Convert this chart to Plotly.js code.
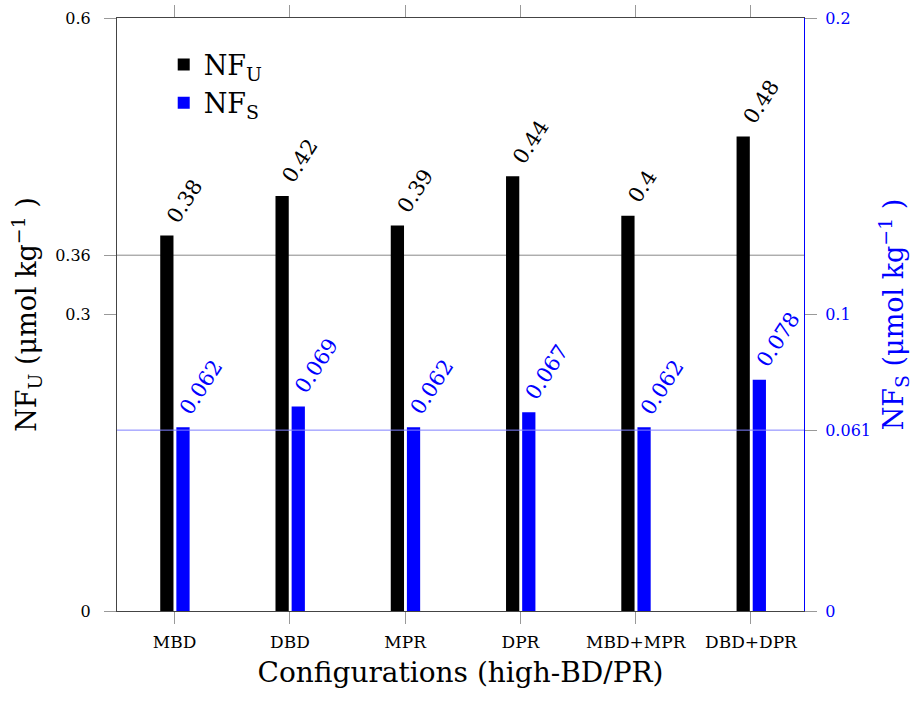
<!DOCTYPE html>
<html>
<head>
<meta charset="utf-8">
<script src="https://cdn.plot.ly/plotly-3.0.1.min.js"></script>
<style>
  html, body { margin: 0; padding: 0; background: #fff; }
  #chart { width: 913px; height: 701px; }
</style>
</head>
<body>
<div id="chart"></div>
<script>
const categories = ["MBD", "DBD", "MPR", "DPR", "MBD+MPR", "DBD+DPR"];
const nfU = [0.38, 0.42, 0.39, 0.44, 0.4, 0.48];
const nfS = [0.062, 0.069, 0.062, 0.067, 0.062, 0.078];
const leftTicks = [0, 0.3, 0.36, 0.6];
const rightTicks = [0, 0.061, 0.1, 0.2];
const refU = 0.36;
const refS = 0.061;

const FONT = "DejaVu Serif, Liberation Serif, serif";
const BLUE = "#0000ff";

const traces = [
  {
    type: "bar", name: "NF<sub>U</sub>", x: categories, y: nfU, yaxis: "y",
    marker: { color: "#000000", line: { width: 0 } },
    width: 0.115, offset: -0.125
  },
  {
    type: "bar", name: "NF<sub>S</sub>", x: categories, y: nfS, yaxis: "y2",
    marker: { color: BLUE, line: { width: 0 } },
    width: 0.115, offset: 0.015
  }
];

// value labels, rotated, placed at the top of each bar
const labelAnns = [];
categories.forEach((c, i) => {
  labelAnns.push({
    x: c, y: nfU[i], xref: "x", yref: "y",
    text: String(nfU[i]), showarrow: false, textangle: -57,
    xanchor: "left", yanchor: "bottom", xshift: -14, yshift: 7,
    borderpad: 0, font: { family: FONT, size: 21, color: "#000000" }
  });
  labelAnns.push({
    x: c, y: nfS[i], xref: "x", yref: "y2",
    text: String(nfS[i]), showarrow: false, textangle: -57,
    xanchor: "left", yanchor: "bottom", xshift: -1, yshift: 7,
    borderpad: 0, font: { family: FONT, size: 21, color: BLUE }
  });
});

const layout = {
  width: 913, height: 701,
  margin: { l: 117, r: 109, t: 18, b: 90 },
  paper_bgcolor: "#ffffff", plot_bgcolor: "#ffffff",
  font: { family: FONT, color: "#000000" },
  showlegend: true,
  legend: {
    x: 0.068, y: 0.962, xanchor: "left", yanchor: "top",
    bgcolor: "rgba(0,0,0,0)", font: { family: FONT, size: 27 },
    tracegroupgap: 2, itemwidth: 30
  },
  xaxis: {
    type: "category", range: [-0.5, 5.46],
    showline: true, linecolor: "#444444", linewidth: 1,
    mirror: "ticks", ticks: "outside", ticklen: 12, tickcolor: "#999999",
    showgrid: false, zeroline: false,
    tickfont: { family: FONT, size: 17, color: "#000000" },
    ticklabelstandoff: 4,
    title: { text: "Configurations (high-BD/PR)", font: { family: FONT, size: 28 }, standoff: 10 }
  },
  yaxis: {
    range: [0, 0.6], tickvals: leftTicks, ticktext: leftTicks.map(String),
    showline: true, linecolor: "#444444", linewidth: 1,
    ticks: "outside", ticklen: 12, tickcolor: "#999999",
    showgrid: false, zeroline: false,
    tickfont: { family: FONT, size: 16, color: "#000000" },
    ticklabelstandoff: 10,
    title: { text: "NF<sub>U</sub> (μmol kg<sup>−1</sup> )", font: { family: FONT, size: 27 }, standoff: 10 }
  },
  yaxis2: {
    overlaying: "y", side: "right",
    range: [0, 0.2], tickvals: rightTicks, ticktext: rightTicks.map(String),
    showline: true, linecolor: BLUE, linewidth: 1,
    ticks: "outside", ticklen: 12, tickcolor: "#999999",
    showgrid: false, zeroline: false,
    tickfont: { family: FONT, size: 16, color: BLUE },
    ticklabelstandoff: 5,
    title: { text: "NF<sub>S</sub> (μmol kg<sup>−1</sup> )", font: { family: FONT, size: 27, color: BLUE }, standoff: 14 }
  },
  annotations: labelAnns,
  shapes: [
    { type: "line", xref: "paper", x0: 0, x1: 1, yref: "y", y0: refU, y1: refU,
      line: { color: "#888888", width: 1 }, layer: "below" },
    { type: "line", xref: "paper", x0: 0, x1: 1, yref: "y2", y0: refS, y1: refS,
      line: { color: "#8080ff", width: 1 }, layer: "above" }
  ]
};

Plotly.newPlot("chart", traces, layout, { displayModeBar: false, staticPlot: true });
</script>
</body>
</html>
